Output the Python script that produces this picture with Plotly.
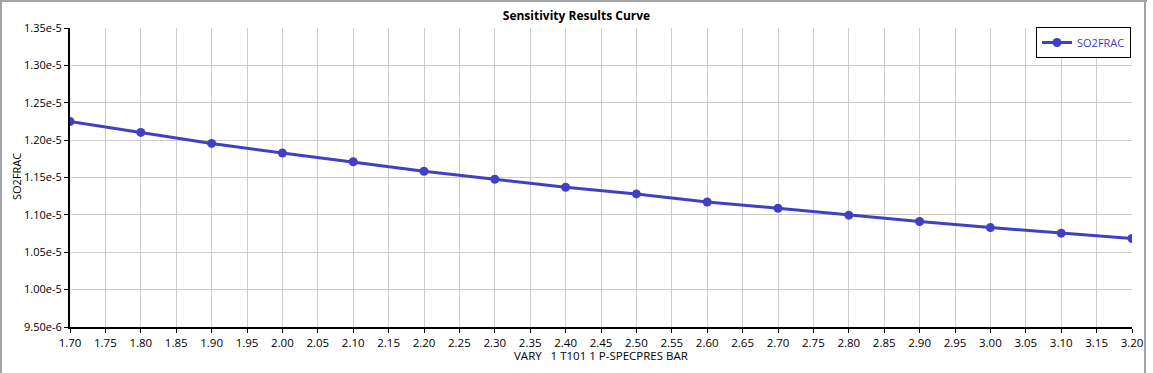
import plotly.graph_objects as go

x_vals = [1.70, 1.80, 1.90, 2.00, 2.10, 2.20, 2.30, 2.40, 2.50, 2.60, 2.70, 2.80, 2.90, 3.00, 3.10, 3.20]
so2frac = [1.2249e-5, 1.2103e-5, 1.1956e-5, 1.1828e-5, 1.1710e-5, 1.1584e-5, 1.1477e-5, 1.1370e-5,
           1.1280e-5, 1.1172e-5, 1.1089e-5, 1.0996e-5, 1.0911e-5, 1.0830e-5, 1.0755e-5, 1.0684e-5]

x_ticks = [1.70 + 0.05 * i for i in range(31)]
x_ticktext = ["%.2f" % v for v in x_ticks]
y_ticks = [9.5e-6, 1.00e-5, 1.05e-5, 1.10e-5, 1.15e-5, 1.20e-5, 1.25e-5, 1.30e-5, 1.35e-5]
y_ticktext = ["9.50e-6", "1.00e-5", "1.05e-5", "1.10e-5", "1.15e-5", "1.20e-5", "1.25e-5", "1.30e-5", "1.35e-5"]

title_text = "Sensitivity Results Curve"
x_title = "VARY   1 T101 1 P-SPECPRES BAR"
y_title = "SO2FRAC"
series_name = "SO2FRAC"

color = "#4040c4"
font_family = "Open Sans, Noto Sans, sans-serif"

fig = go.Figure()
fig.add_trace(go.Scatter(
    x=x_vals, y=so2frac, mode="lines+markers", name=series_name,
    line=dict(color=color, width=3),
    marker=dict(color=color, size=9),
))

W, H = 1153, 373
ML, MR, MT, MB = 70, 21, 28, 46
pw, ph = W - ML - MR, H - MT - MB
def px(xp):
    return (xp - ML) / pw
def py(yp):
    return (H - MB - yp) / ph

fig.update_layout(
    width=W, height=H,
    margin=dict(l=ML, r=MR, t=MT, b=MB),
    paper_bgcolor="white", plot_bgcolor="white",
    font=dict(family=font_family, size=11, color="#000000"),
    title=dict(text="<b>" + title_text + "</b>", x=0.5, xanchor="center",
               y=1 - 16 / H, yanchor="middle", font=dict(size=12, color="#000000")),
    showlegend=True,
    legend=dict(x=px(1131), y=py(27), xanchor="right", yanchor="top",
                bordercolor="#000000", borderwidth=1, bgcolor="white",
                font=dict(size=11, color=color), itemwidth=30,
                tracegroupgap=0),
    xaxis=dict(
        range=[1.70, 3.20], tickmode="array", tickvals=x_ticks, ticktext=x_ticktext,
        showgrid=True, gridcolor="#cccccc", gridwidth=1,
        showline=True, linecolor="#000000", linewidth=2,
        ticks="outside", ticklen=4, tickcolor="#000000", tickwidth=1,
        zeroline=False, automargin=False,
        tickfont=dict(size=11.5),
    ),
    yaxis=dict(
        range=[9.5e-6, 1.35e-5], tickmode="array", tickvals=y_ticks, ticktext=y_ticktext,
        showgrid=True, gridcolor="#cccccc", gridwidth=1,
        showline=True, linecolor="#000000", linewidth=2,
        ticks="outside", ticklen=4, tickcolor="#000000", tickwidth=1,
        zeroline=False, automargin=False,
        tickfont=dict(size=11),
    ),
)

fig.add_annotation(text=x_title, xref="paper", yref="paper", x=0.5, y=py(355),
                   xanchor="center", yanchor="middle", showarrow=False,
                   font=dict(size=11.5, color="#000000"))
fig.add_annotation(text=y_title, xref="paper", yref="paper", x=px(16), y=py(177),
                   xanchor="center", yanchor="middle", showarrow=False, textangle=-90,
                   font=dict(size=11, color="#000000"))

# outer frame (left, top, right) drawn in paper coordinates
frame = "#a0a4a8"
fig.add_shape(type="line", xref="paper", yref="paper", x0=px(1), x1=px(1), y0=py(0), y1=py(H),
              line=dict(color=frame, width=2))
fig.add_shape(type="line", xref="paper", yref="paper", x0=px(0), x1=px(1147), y0=py(1), y1=py(1),
              line=dict(color=frame, width=2))
fig.add_shape(type="line", xref="paper", yref="paper", x0=px(1145), x1=px(1145), y0=py(0), y1=py(H),
              line=dict(color=frame, width=2))

fig.write_html("out.html", config={"displayModeBar": False},
               post_script="document.body.style.margin='0';document.body.style.overflow='hidden';")
